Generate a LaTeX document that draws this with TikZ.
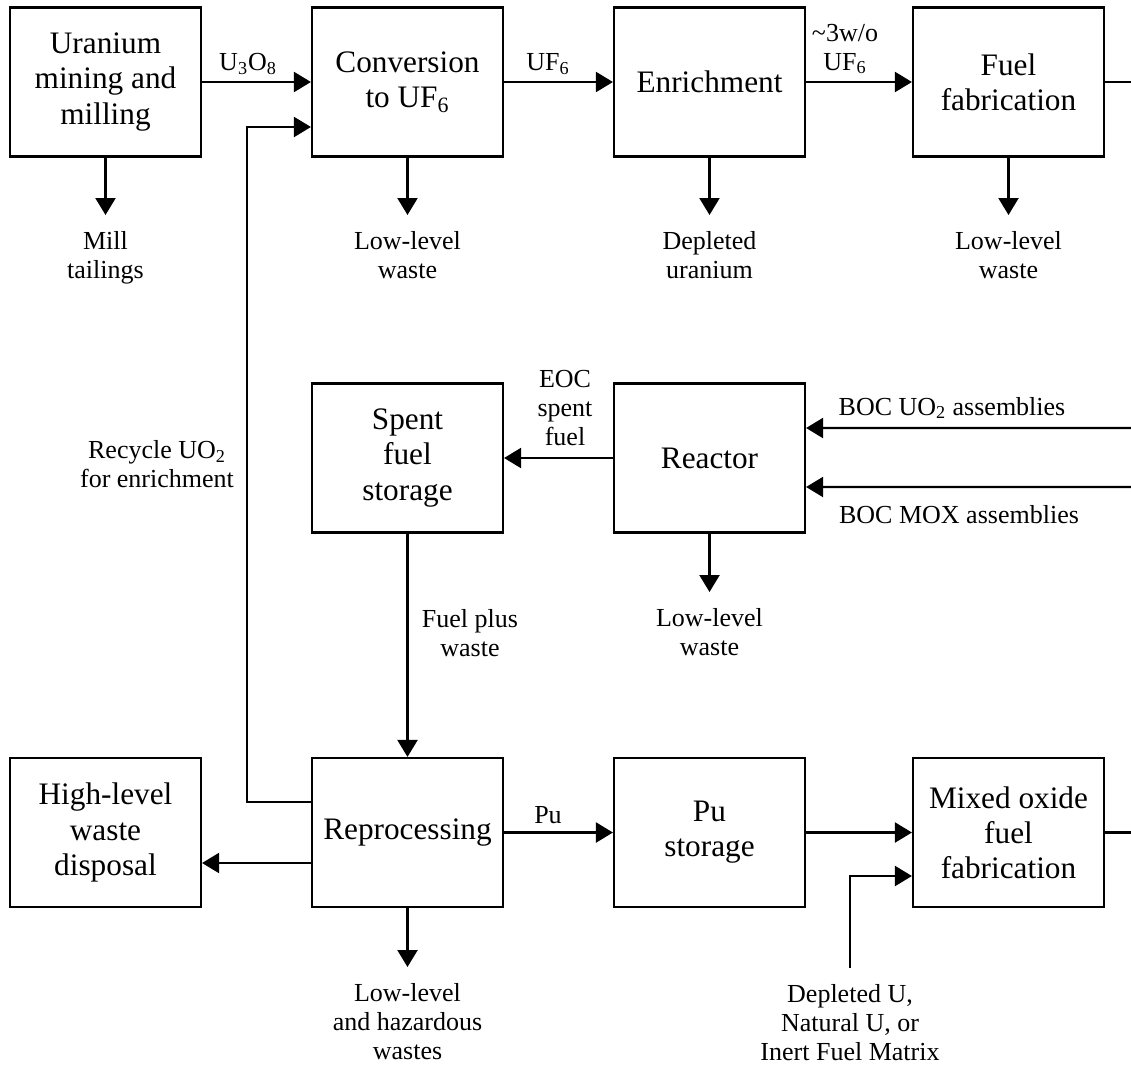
\documentclass[tikz,border=0pt]{standalone}
\usepackage{fontspec}
\setmainfont{Liberation Serif}
\usetikzlibrary{arrows.meta}

\tikzset{
  stage/.style={draw, line width=1.25pt, minimum width=3.82cm, minimum height=2.98cm,
    align=center, inner sep=0pt, font=\fontsize{17.8}{20}\selectfont},
  lbl/.style={align=center, inner sep=0pt, font=\fontsize{14.8}{16.5}\selectfont},
  waste/.style={lbl, anchor=north, inner sep=9pt},
  flow/.style={line width=1.25pt, -{Triangle[length=0.34cm,width=0.4cm]}},
  link/.style={line width=1.25pt}
}

\begin{document}
\begin{tikzpicture}[x=0.02cm, y=-0.02cm]
        \useasboundingbox (0,0) rectangle (1131,1065);
        % Front end
        \node[stage] (mine) at (105.5,82) {Uranium\\mining and\\milling};
        \node[stage] (conv) at (407.5,82) {Conversion\\to UF\textsubscript{6}};
        \node[stage] (enrich) at (709.5,82) {Enrichment};
        \node[stage] (fuelfab) at (1008.5,82) {Fuel\\fabrication};
        % Reactor row
        \node[stage] (spent) at (407.5,458) {Spent\\fuel\\storage};
        \node[stage] (reactor) at (709.5,458) {Reactor};
        % Back end
        \node[stage] (hlw) at (105.5,832.5) {High-level\\waste\\disposal};
        \node[stage] (repro) at (407.5,832.5) {Reprocessing};
        \node[stage] (pustore) at (709.5,832.5) {Pu\\storage};
        \node[stage] (moxfab) at (1008.5,832.5) {Mixed oxide\\fuel\\fabrication};
        % Free ends at the right edge
        \coordinate (outA) at (1131,82);
        \coordinate (outB) at (1131,832.5);
        \coordinate (inA) at (1131,428);
        \coordinate (inB) at (1131,487);
        % Outputs below the boxes
        \node[waste] (tail) at (105.5,215) {Mill\\tailings};
        \node[waste] (llconv) at (407.5,215) {Low-level\\waste};
        \node[waste] (depl) at (709.5,215) {Depleted\\uranium};
        \node[waste] (llfab) at (1008.5,215) {Low-level\\waste};
        \node[waste] (llreact) at (709.5,592) {Low-level\\waste};
        \node[waste] (llrepro) at (407.5,967) {Low-level\\and hazardous\\wastes};
        \node[waste] (matrix) at (850,968) {Depleted U,\\Natural U, or\\Inert Fuel Matrix};
        % Flow labels
        \node[lbl] (uox) at (248,64) {U\textsubscript{3}O\textsubscript{8}};
        \node[lbl] (ufa) at (548,64) {UF\textsubscript{6}};
        \node[lbl] (ufb) at (845,49) {\textasciitilde3w/o\\UF\textsubscript{6}};
        \node[lbl] (eoc) at (565,408) {EOC\\spent\\fuel};
        \node[lbl] (bocu) at (952,408) {BOC UO\textsubscript{2} assemblies};
        \node[lbl] (bocm) at (959,515) {BOC MOX assemblies};
        \node[lbl] (recyc) at (157,464) {Recycle UO\textsubscript{2}\\for enrichment};
        \node[lbl] (fpw) at (470,633) {Fuel plus\\waste};
        \node[lbl] (pu) at (548,815) {Pu};
        % Main flow
        \draw[flow] (mine) -- (conv);
        \draw[flow] (conv) -- (enrich);
        \draw[flow] (enrich) -- (fuelfab);
        \draw[link] (fuelfab.east) -- (outA);
        \draw[flow] (inA) -- ([yshift=0.6cm]reactor.east);
        \draw[flow] (inB) -- ([yshift=-0.58cm]reactor.east);
        \draw[flow] (reactor) -- (spent);
        \draw[flow] (spent) -- (repro);
        \draw[flow] (repro) -- (pustore);
        \draw[flow] (pustore) -- (moxfab);
        \draw[link] (moxfab.east) -- (outB);
        \draw[flow] ([yshift=-0.61cm]repro.west) -- ([yshift=-0.61cm]hlw.east);
        \draw[flow] ([yshift=0.61cm]repro.west) -- ++(-64,0) |- ([yshift=-0.9cm]conv.west);
        \draw[flow] (matrix.north) |- ([yshift=-0.87cm]moxfab.west);
        % Waste streams
        \draw[flow] (mine) -- (tail);
        \draw[flow] (conv) -- (llconv);
        \draw[flow] (enrich) -- (depl);
        \draw[flow] (fuelfab) -- (llfab);
        \draw[flow] (reactor) -- (llreact);
        \draw[flow] (repro) -- (llrepro);
\end{tikzpicture}
\end{document}
